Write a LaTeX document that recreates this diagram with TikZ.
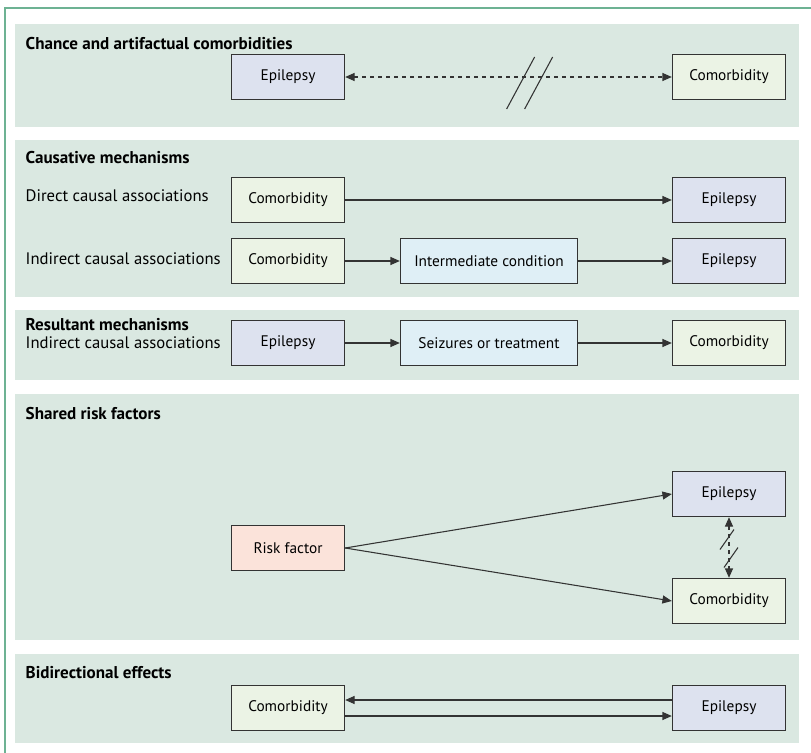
\documentclass[tikz,border=0pt]{standalone}
\usepackage{fontspec}
\setmainfont{PT Sans}
\usetikzlibrary{arrows.meta}

\definecolor{framegreen}{HTML}{6DB293}
\definecolor{panelgreen}{HTML}{DAE8E1}
\definecolor{epiblue}{HTML}{DDE2EF}
\definecolor{comgreen}{HTML}{EBF3E5}
\definecolor{midcyan}{HTML}{DFEFF6}
\definecolor{riskpeach}{HTML}{FBE3DA}
\definecolor{boxline}{HTML}{333333}

\begin{document}
\begin{tikzpicture}[
    x = 0.75pt, y = -0.75pt,
    font = \fontsize{11.5}{13}\selectfont,
    >= {Triangle[length = 7pt, width = 6pt]},
    panel/.style = {fill = panelgreen},
    heading/.style = {anchor = west,
      font = \fontsize{12.8}{14}\selectfont\bfseries},
    rowlabel/.style = {anchor = west,
      font = \fontsize{12.5}{14}\selectfont},
    box/.style = {draw = boxline,
      line width = 0.8pt,
      inner sep = 0pt,
      minimum width = 85pt,
      minimum height = 34pt},
    epi/.style = {box, fill = epiblue},
    com/.style = {box, fill = comgreen},
    mid/.style = {box, fill = midcyan, minimum width = 133pt},
    risk/.style = {box, fill = riskpeach},
    link/.style = {line width = 0.8pt, draw = boxline},
    ]

    \useasboundingbox (0, 0) rectangle (811, 753);
    \draw [framegreen, line width = 1.2pt] (5, 753) -- (5, 8) -- (811, 8);

    % panels
    \fill [panel] (15, 24) rectangle (799, 127);
    \fill [panel] (15, 140) rectangle (799, 297);
    \fill [panel] (15, 310) rectangle (799, 380);
    \fill [panel] (15, 394) rectangle (799, 640);
    \fill [panel] (15, 654) rectangle (799, 743);

    % chance
    \node at (21, 44) [heading, name = h_chance]
    {Chance and artifactual comorbidities};
    \node at (288, 77) [epi, name = E_chance] {Epilepsy};
    \node at (729, 77) [com, name = C_chance] {Comorbidity};
    \draw [link, dashed, <->] (E_chance) to coordinate [pos = 0.58] (brk_chance)
    (C_chance);
    \draw [link] (brk_chance) ++(-28, 32) -- ++(28, -52);
    \draw [link] (brk_chance) ++(-10, 32) -- ++(28, -52);

    % causative
    \node at (21, 158) [heading, name = h_cause] {Causative mechanisms};
    \node at (21, 196) [rowlabel, name = l_direct] {Direct causal associations};
    \node at (288, 200) [com, name = C_direct] {Comorbidity};
    \node at (729, 200) [epi, name = E_direct] {Epilepsy};
    \draw [link, ->] (C_direct) to (E_direct);

    \node at (21, 259) [rowlabel, name = l_indirect]
    {Indirect causal associations};
    \node at (288, 261) [com, name = C_indirect] {Comorbidity};
    \node at (489, 261) [mid, name = M_indirect] {Intermediate condition};
    \node at (729, 261) [epi, name = E_indirect] {Epilepsy};
    \draw [link, ->] (C_indirect) to (M_indirect);
    \draw [link, ->] (M_indirect) to (E_indirect);

    % resultant
    \node at (21, 325) [heading, name = h_result] {Resultant mechanisms};
    \node at (21, 343) [rowlabel, name = l_result]
    {Indirect causal associations};
    \node at (288, 343) [epi, name = E_result] {Epilepsy};
    \node at (489, 343) [mid, name = S_result] {Seizures or treatment};
    \node at (729, 343) [com, name = C_result] {Comorbidity};
    \draw [link, ->] (E_result) to (S_result);
    \draw [link, ->] (S_result) to (C_result);

    % shared risk factors
    \node at (21, 414) [heading, name = h_shared] {Shared risk factors};
    \node at (288, 548) [risk, name = R_shared] {Risk factor};
    \node at (729, 494) [epi, name = E_shared] {Epilepsy};
    \node at (729, 601) [com, name = C_shared] {Comorbidity};
    \draw [link, ->] (R_shared.east) to (E_shared.west);
    \draw [link, ->] (R_shared.east) to (C_shared.west);
    \draw [link, dashed, <->] (E_shared) to coordinate [pos = 0.5] (brk_shared)
    (C_shared);
    \draw [link] (brk_shared) ++(-9, 2) -- ++(14, -20);
    \draw [link] (brk_shared) ++(-5, 20) -- ++(14, -20);

    % bidirectional
    \node at (21, 673) [heading, name = h_bi] {Bidirectional effects};
    \node at (288, 708) [com, name = C_bi] {Comorbidity};
    \node at (729, 708) [epi, name = E_bi] {Epilepsy};
    \draw [link, ->] (E_bi.west |- 0, 700) to (C_bi.east |- 0, 700);
    \draw [link, ->] (C_bi.east |- 0, 716) to (E_bi.west |- 0, 716);

  \end{tikzpicture}
\end{document}
